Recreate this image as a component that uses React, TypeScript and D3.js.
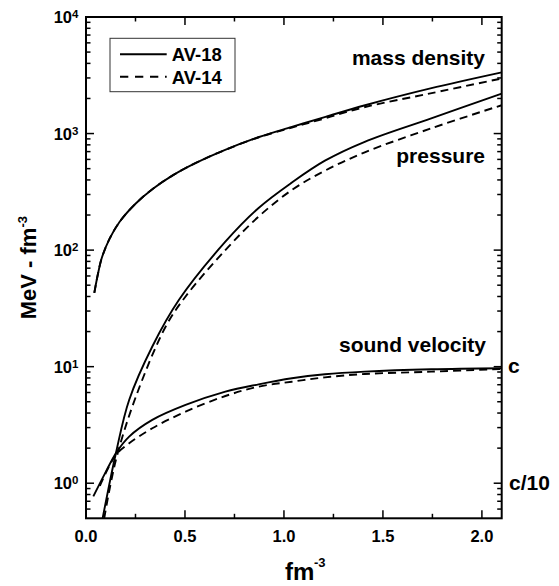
import React from 'react';
import * as d3 from 'd3';

// density (fm^-3) and values
const massX = [0.042, 0.06, 0.08, 0.12, 0.17, 0.25, 0.34, 0.44, 0.55, 0.7, 0.87, 1.04, 1.21, 1.41, 1.74, 2.1];
const massAV18 = [43, 62, 86, 126, 175, 250, 338, 440, 555, 722, 930, 1140, 1390, 1750, 2440, 3350];
const massAV14 = [43, 62, 86, 126, 175, 250, 338, 440, 555, 720, 925, 1125, 1355, 1690, 2210, 2970];

const presX18 = [0.084, 0.151, 0.218, 0.335, 0.469, 0.704, 0.872, 1.04, 1.207, 1.408, 1.744, 2.1];
const presAV18 = [0.5, 1.81, 5.18, 14.9, 37.3, 118, 230, 380, 585, 850, 1350, 2200];
const presX14 = [0.092, 0.151, 0.252, 0.402, 0.503, 0.704, 0.872, 1.04, 1.207, 1.408, 1.744, 2.1];
const presAV14 = [0.5, 1.58, 5.53, 22, 40, 100, 194, 328, 480, 690, 1109, 1750];

const svX18 = [0.037, 0.1, 0.151, 0.218, 0.335, 0.503, 0.704, 0.872, 1.04, 1.207, 1.408, 1.744, 2.1];
const svAV18 = [0.77, 1.25, 1.81, 2.51, 3.49, 4.69, 6.1, 7.05, 7.95, 8.6, 9.06, 9.5, 9.7];
const svX14 = [0.07, 0.151, 0.218, 0.335, 0.503, 0.704, 0.872, 1.04, 1.207, 1.408, 1.744, 2.1];
const svAV14 = [0.95, 1.75, 2.2, 2.96, 4.11, 5.6, 6.74, 7.43, 8.1, 8.65, 9.06, 9.55];

const xMajor = [0, 0.5, 1, 1.5, 2];
const xMinor = [0.25, 0.75, 1.25, 1.75];
const yDecades = [0, 1, 2, 3, 4];

const W = 559;
const H = 586;
const left = 86, right = 501.7, top = 17, bottom = 518.3;
const FONT = 'Liberation Sans, Arial, Helvetica, sans-serif';

export default function App() {
	const x = d3.scaleLinear().domain([0, 2.1]).range([left, right]);
	const y = d3.scaleLog().domain([0.5, 1e4]).range([bottom, top]);

	const line = d3
		.line<[number, number]>()
		.x(d => x(d[0]))
		.y(d => y(d[1]))
		.curve(d3.curveCatmullRom.alpha(0.5));
	const zip = (xs: number[], ys: number[]) => xs.map((v, i) => [v, ys[i]] as [number, number]);

	const series = [
		{ d: zip(massX, massAV18), dash: null },
		{ d: zip(massX, massAV14), dash: '8,5' },
		{ d: zip(presX18, presAV18), dash: null },
		{ d: zip(presX14, presAV14), dash: '8,5' },
		{ d: zip(svX18, svAV18), dash: null },
		{ d: zip(svX14, svAV14), dash: '8,5' },
	];

	// log minor ticks
	const yMinor: number[] = [];
	for (let k = -1; k < 4; k++) {
		for (let m = 2; m <= 9; m++) {
			const v = m * Math.pow(10, k);
			if (v > 0.5 && v < 1e4) yMinor.push(v);
		}
	}

	return (
		<svg width={W} height={H} style={{ position: 'absolute', left: 0, top: 0 }} fontFamily={FONT} fontWeight="bold">
			<defs>
				<clipPath id="plot">
					<rect x={left} y={top} width={right - left} height={bottom - top} />
				</clipPath>
			</defs>
			<rect width={W} height={H} fill="white" />

			{/* curves */}
			<g clipPath="url(#plot)">
				{series.map((s, i) => (
					<path key={i} d={line(s.d) || ''} fill="none" stroke="black" strokeWidth={1.9} strokeDasharray={s.dash || undefined} />
				))}
			</g>

			{/* ticks */}
			<g stroke="black" strokeWidth={1.5}>
				{xMajor.map(t => (
					<g key={'xM' + t}>
						<line x1={x(t)} x2={x(t)} y1={bottom} y2={bottom - 8} />
						<line x1={x(t)} x2={x(t)} y1={top} y2={top + 8} />
					</g>
				))}
				{xMinor.map(t => (
					<g key={'xm' + t}>
						<line x1={x(t)} x2={x(t)} y1={bottom} y2={bottom - 4.5} />
						<line x1={x(t)} x2={x(t)} y1={top} y2={top + 4.5} />
					</g>
				))}
				{yDecades.map(k => (
					<g key={'yM' + k}>
						<line x1={left} x2={left + 8} y1={y(Math.pow(10, k))} y2={y(Math.pow(10, k))} />
						<line x1={right} x2={right - 8} y1={y(Math.pow(10, k))} y2={y(Math.pow(10, k))} />
					</g>
				))}
				{yMinor.map(v => (
					<g key={'ym' + v}>
						<line x1={left} x2={left + 4.5} y1={y(v)} y2={y(v)} />
						<line x1={right} x2={right - 4.5} y1={y(v)} y2={y(v)} />
					</g>
				))}
			</g>

			{/* frame */}
			<rect x={left} y={top} width={right - left} height={bottom - top} fill="none" stroke="black" strokeWidth={2} />

			{/* tick labels */}
			{xMajor.map(t => (
				<text key={'xl' + t} x={x(t)} y={542} textAnchor="middle" fontSize={16.5}>
					{t.toFixed(1)}
				</text>
			))}
			{yDecades.map(k => (
				<g key={'yl' + k}>
					<text x={72} y={y(Math.pow(10, k)) + 6} textAnchor="end" fontSize={16.5}>
						10
					</text>
					<text x={72} y={y(Math.pow(10, k)) + 1} fontSize={11.5}>
						{k}
					</text>
				</g>
			))}

			{/* axis titles */}
			<text x={285} y={580} fontSize={24}>
				fm
			</text>
			<text x={314} y={567} fontSize={13}>
				-3
			</text>
			<g transform={`translate(36, ${(top + bottom) / 2}) rotate(-90)`}>
				<text x={0} y={0} textAnchor="middle" fontSize={22}>
					MeV - fm<tspan dy={-9} fontSize={13}>-3</tspan>
				</text>
			</g>

			{/* curve labels */}
			<text x={485} y={65} textAnchor="end" fontSize={21}>mass density</text>
			<text x={485} y={163} textAnchor="end" fontSize={21}>pressure</text>
			<text x={486} y={352} textAnchor="end" fontSize={21}>sound velocity</text>
			<text x={508} y={y(10) + 6} fontSize={21}>c</text>
			<text x={509} y={y(1) + 7} fontSize={21}>c/10</text>

			{/* legend */}
			<rect x={110} y={38.3} width={125} height={53.4} fill="white" stroke="#333" strokeWidth={1} />
			<line x1={120} x2={166.7} y1={54.3} y2={54.3} stroke="black" strokeWidth={1.9} />
			<line x1={120} x2={166.7} y1={76.7} y2={76.7} stroke="black" strokeWidth={1.9} strokeDasharray="8.3,6.7" />
			<text x={171.7} y={61} fontSize={18.5}>AV-18</text>
			<text x={171.7} y={83.5} fontSize={18.5}>AV-14</text>
		</svg>
	);
}
